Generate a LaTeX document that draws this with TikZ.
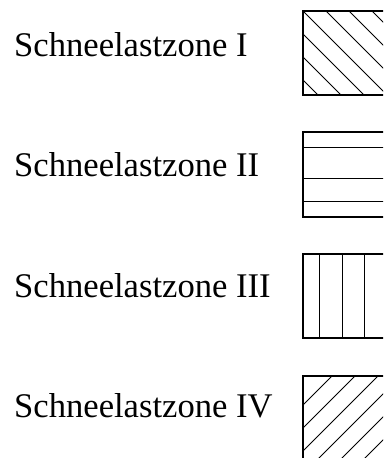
\documentclass[tikz,border=0pt]{standalone}
\usepackage{fontspec}
\setmainfont{Liberation Serif}
\begin{document}
\begin{tikzpicture}[x=1bp,y=-1bp,
  label/.style={anchor=base west,inner sep=0pt,font=\fontsize{34.6bp}{40bp}\selectfont},
  frame/.style={line width=2bp},
  hatch/.style={line width=0.9bp}]
\useasboundingbox (0,0) rectangle (383,458);
\clip (0,0) rectangle (383,458);

% zone labels
\node[label] (z1) at (14,57) {Schneelastzone I};
\node[label] (z2) at (14,177) {Schneelastzone II};
\node[label] (z3) at (14,297) {Schneelastzone III};
\node[label] (z4) at (14,417) {Schneelastzone IV};

% zone I: falling diagonal hatching
\begin{scope}
  \clip (303,11) rectangle (400,95);
  \foreach \c in {223,246,...,385}
    \draw[hatch] (\c+11-100,11-100) -- (\c+11+200,11+200);
\end{scope}
\draw[frame] (400,11) -- (303,11) -- (303,95) -- (400,95);

% zone II: horizontal hatching
\foreach \y in {147,178,201}
  \draw[hatch] (303,\y) -- (400,\y);
\draw[frame] (400,132.5) -- (303,132.5) -- (303,217) -- (400,217);

% zone III: vertical hatching
\foreach \x in {319,342,364}
  \draw[hatch] (\x,254) -- (\x,338);
\draw[frame] (400,254) -- (303,254) -- (303,338) -- (400,338);

% zone IV: rising diagonal hatching
\begin{scope}
  \clip (303,376) rectangle (400,470);
  \foreach \c in {708,731,...,870}
    \draw[hatch] (\c-376+100,376-100) -- (\c-376-200,376+200);
\end{scope}
\draw[frame] (400,376) -- (303,376) -- (303,470);
\end{tikzpicture}
\end{document}
